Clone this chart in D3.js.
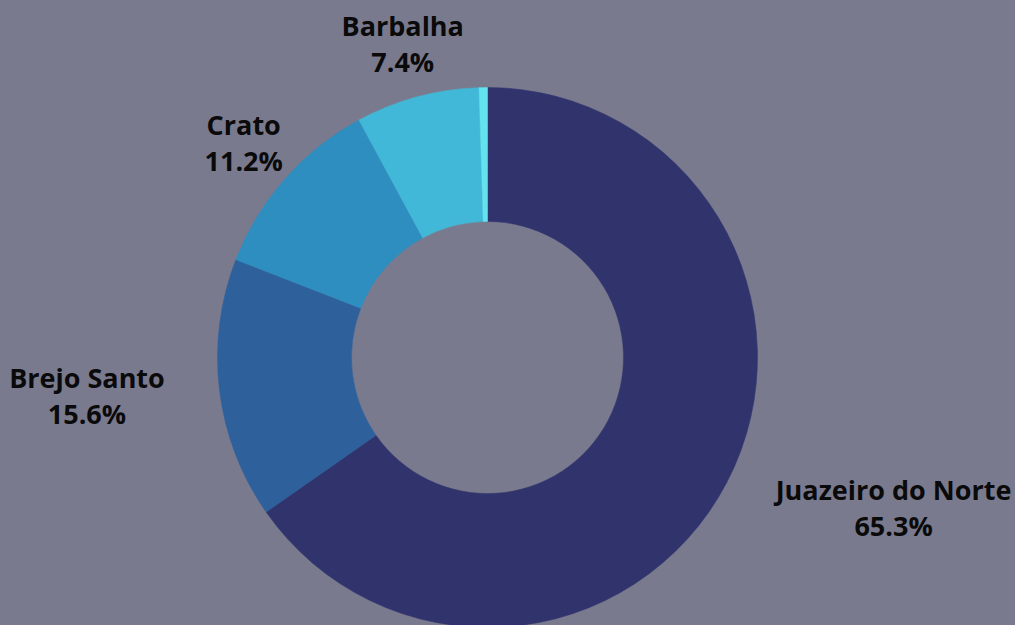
<!DOCTYPE html>
<html>
<head>
<meta charset="utf-8">
<script src="https://cdn.jsdelivr.net/npm/d3@7"></script>
<style>
  html, body { margin: 0; padding: 0; background: #7a7a8f; }
  #chart-area { width: 1015px; height: 625px; }
</style>
</head>
<body>
<div id="chart-area"></div>
<script>
/*
*    donut - cidades
*/

var cities = ["Juazeiro do Norte", "Brejo Santo", "Crato", "Barbalha", "Outros"];
var shares = [65.3, 15.6, 11.2, 7.4, 0.5];
var colors = ["#31346c", "#2e609c", "#2e8ebf", "#42b8d8", "#62e3ee"];

var width = 1015;
var height = 625;
var cx = 487.5, cy = 357.5;
var outerR = 270, innerR = 136;

var data = cities.map((c, i) => { return {city: c, share: shares[i]}; });

var svg = d3.select("#chart-area")
    .append("svg")
    .attr("width", width)
    .attr("height", height);

svg.append("rect")
    .attr("width", width)
    .attr("height", height)
    .attr("fill", "#7a7a8f");

var g = svg.append("g")
    .attr("transform", "translate(" + cx + ", " + cy + ")");

var color = d3.scaleOrdinal()
    .domain(cities)
    .range(colors);

var pie = d3.pie()
    .sort(null)
    .value((d) => { return d.share; });

var arc = d3.arc()
    .innerRadius(innerR)
    .outerRadius(outerR);

var arcs = pie(data);

g.selectAll("path").data(arcs)
    .enter()
    .append("path")
        .attr("d", arc)
        .attr("fill", (d) => { return color(d.data.city); })
        .attr("stroke", (d) => { return color(d.data.city); })
        .attr("stroke-width", 0.5);

// labels outside, two centered lines per block
var labelR = 325;
var labels = g.selectAll("g.label").data(arcs.filter((d) => { return d.data.share >= 1; }))
    .enter()
    .append("g")
    .attr("class", "label")
    .attr("transform", (d) => {
        var a = (d.startAngle + d.endAngle) / 2;
        return "translate(" + (Math.sin(a) * labelR) + ", " + (-Math.cos(a) * labelR) + ")";
    });

var text = labels.append("text")
    .attr("font-family", "'Open Sans', sans-serif")
    .attr("font-weight", "bold")
    .attr("font-size", "27px")
    .attr("fill", "#0a0a0a")
    .attr("text-anchor", "middle");

text.append("tspan")
    .attr("class", "name")
    .attr("y", -8)
    .text((d) => { return d.data.city; });

text.append("tspan")
    .attr("class", "pct")
    .attr("y", 28)
    .text((d) => { return d3.format(".1f")(d.data.share) + "%"; });

// shift block so it sits beside the ring on the left / right
text.each(function(d) {
    var t = d3.select(this);
    var w = 0;
    t.selectAll("tspan").each(function() { w = Math.max(w, this.getComputedTextLength()); });
    var s = Math.sin((d.startAngle + d.endAngle) / 2);
    var x = 0;
    if (s > 0.85) x = w / 2;
    else if (s < -0.85) x = -w / 2;
    t.selectAll("tspan").attr("x", x);
});
</script>
</body>
</html>
